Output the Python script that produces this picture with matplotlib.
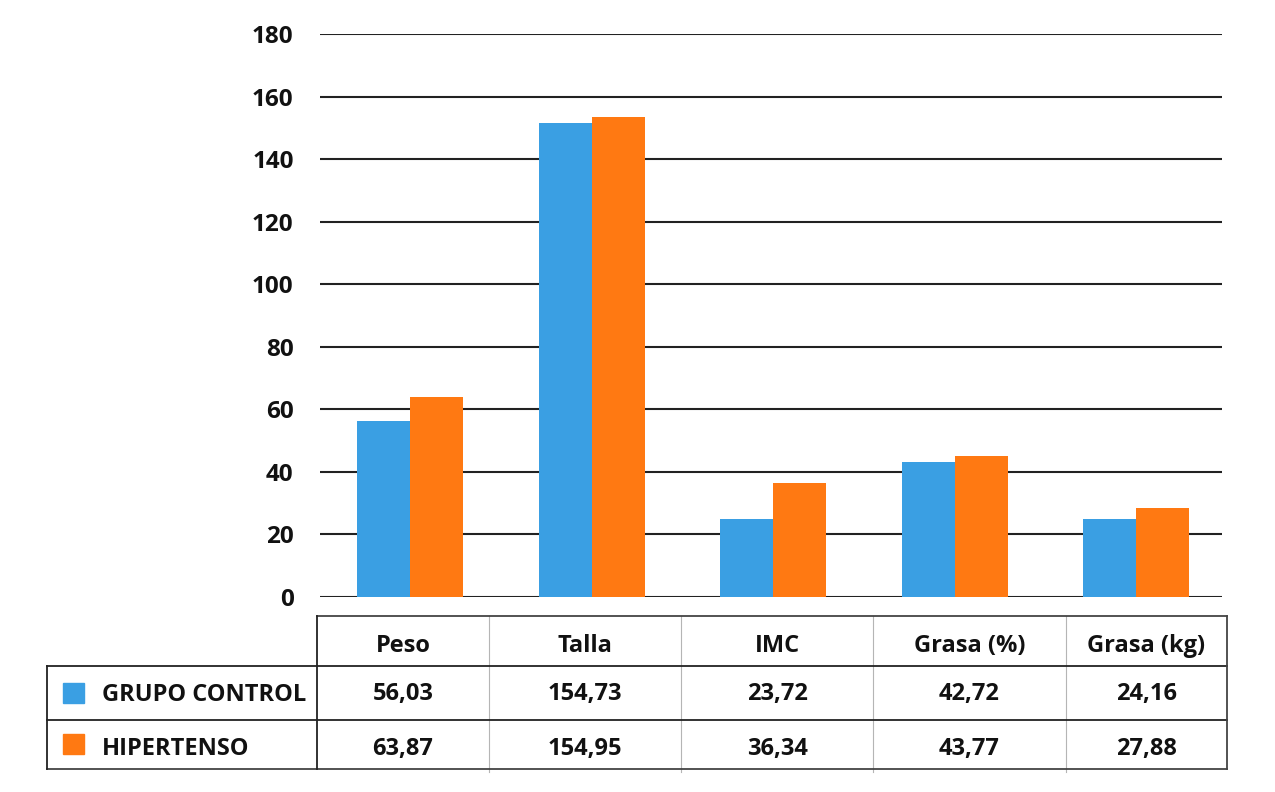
import matplotlib.pyplot as plt
import numpy as np

# categories and series
categorias = ['Peso', 'Talla', 'IMC', 'Grasa (%)', 'Grasa (kg)']
series = ['GRUPO CONTROL', 'HIPERTENSO']
# bar heights as drawn in the picture
control = [56.3, 151.7, 24.8, 43.2, 24.8]
hipertenso = [64.1, 153.5, 36.4, 45.0, 28.3]
# values printed in the table
tabla_control = [56.03, 154.73, 23.72, 42.72, 24.16]
tabla_hipertenso = [63.87, 154.95, 36.34, 43.77, 27.88]
yticks = [0, 20, 40, 60, 80, 100, 120, 140, 160, 180]

azul = '#3a9fe3'
naranja = '#ff7912'
W, H = 1275, 792
fs = 17

plt.rcParams['font.family'] = ['Open Sans', 'DejaVu Sans']
plt.rcParams['font.weight'] = 'bold'

fig = plt.figure(figsize=(W / 100, H / 100), dpi=100)

# main bar chart
ax = fig.add_axes([320 / W, 1 - 597 / H, (1222 - 320) / W, (597 - 34) / H])
x = np.arange(len(categorias))
bw = 0.292
ax.bar(x - bw / 2, control, bw, color=azul, zorder=3)
ax.bar(x + bw / 2, hipertenso, bw, color=naranja, zorder=3)
ax.set_xlim(-0.496, 4.471)
ax.set_ylim(0, 180)
ax.set_yticks(yticks)
ax.set_yticklabels([str(v) for v in yticks], fontsize=17.5, fontweight='bold', color='#111111')
ax.tick_params(axis='y', length=0, pad=19)
ax.set_xticks([])
ax.grid(axis='y', color='#222222', linewidth=1.5, zorder=1)
for s in ax.spines.values():
    s.set_visible(False)

# data table drawn in pixel coords
tx = fig.add_axes([0, 0, 1, 1])
tx.set_xlim(0, W)
tx.set_ylim(H, 0)
tx.axis('off')

cols = [317, 489, 681, 873, 1066, 1227]
top, r1, r2, bot = 616, 666, 720, 769
left = 47
dark = '#222222'
lw = 1.3

# light column dividers
for c in cols[1:-1]:
    tx.plot([c, c], [top, 772], color='#b5b5b5', lw=0.8)

tx.plot([cols[0], cols[-1]], [top, top], color='#444444', lw=lw)
tx.plot([left, cols[-1]], [r1, r1], color=dark, lw=lw)
tx.plot([left, cols[-1]], [r2, r2], color=dark, lw=lw)
tx.plot([left, cols[-1]], [bot, bot], color='#444444', lw=lw)
tx.plot([left, left], [r1, bot], color=dark, lw=lw)
tx.plot([cols[0], cols[0]], [top, bot], color=dark, lw=lw)
tx.plot([cols[-1], cols[-1]], [top, bot], color='#444444', lw=lw)

# header and values
for i, cat in enumerate(categorias):
    cx = (cols[i] + cols[i + 1]) / 2
    tx.text(cx, 652, cat, ha='center', va='baseline', fontsize=fs, fontweight='bold', color='#111111')
    tx.text(cx, 700, f'{tabla_control[i]:.2f}'.replace('.', ','), ha='center', va='baseline',
            fontsize=fs, fontweight='bold', color='#111111')
    tx.text(cx, 755, f'{tabla_hipertenso[i]:.2f}'.replace('.', ','), ha='center', va='baseline',
            fontsize=fs, fontweight='bold', color='#111111')

# row labels with legend keys
for nombre, color, y0, base in [(series[0], azul, 683, 701), (series[1], naranja, 734, 755)]:
    tx.add_patch(plt.Rectangle((63, y0), 21, 20, color=color))
    tx.text(102, base, nombre, ha='left', va='baseline', fontsize=fs, fontweight='bold', color='#111111')

fig.savefig('out.png', dpi=100)
